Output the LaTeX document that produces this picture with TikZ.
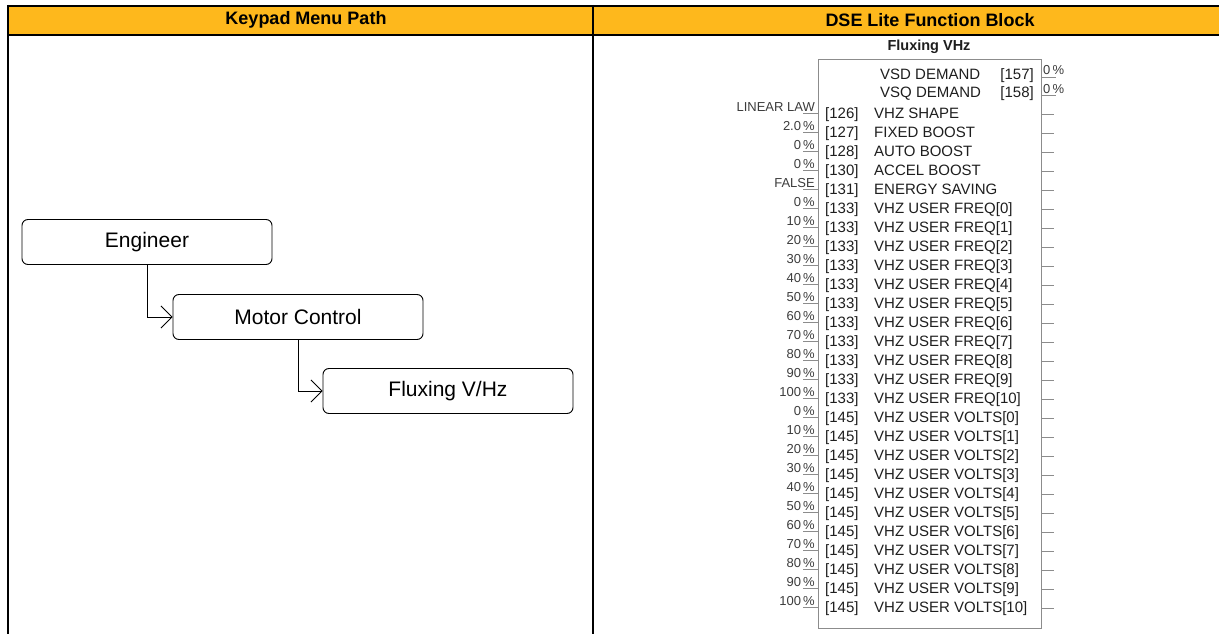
\documentclass[tikz,border=0pt]{standalone}
\usepackage{fontspec}
\setmainfont{Liberation Sans}
\usetikzlibrary{arrows.meta}
\definecolor{hdr}{RGB}{254,184,28}
\definecolor{blk}{RGB}{140,140,140}
\definecolor{txt}{RGB}{30,30,30}
\definecolor{val}{RGB}{60,60,60}
\tikzset{
  hdrtext/.style={font=\fontsize{18}{21}\selectfont\bfseries, inner sep=0pt},
  menubox/.style={draw, rounded corners=6pt, line width=0.9pt, minimum width=250pt, minimum height=45pt, inner sep=0pt, font=\fontsize{21}{25}\selectfont},
  menuarrow/.style={line width=0.8pt, -{Straight Barb[length=11pt,width=22pt,line width=0.8pt]}},
  rowtext/.style={font=\fontsize{15}{18}\selectfont, text=txt, inner sep=0pt},
  valtext/.style={font=\fontsize{13}{15}\selectfont, text=val, inner sep=0pt},
  pinline/.style={draw=blk, line width=0.8pt},
  blocktitle/.style={font=\fontsize{14.5}{17}\selectfont\bfseries, text=txt, inner sep=0pt},
}
\begin{document}
\begin{tikzpicture}[x=1pt,y=-1pt]
\useasboundingbox (0,0) rectangle (1219,634);
% table header
\fill[hdr] (8,6) rectangle (1219,35);
\draw[line width=2pt] (7,6) -- (1219,6);
\draw[line width=2pt] (7,35) -- (1219,35);
\draw[line width=2pt] (8,5) -- (8,634);
\draw[line width=2pt] (593,5) -- (593,634);
\node[hdrtext] (h1) at (306,20) {Keypad Menu Path};
\node[hdrtext] (h2) at (930,20) {DSE Lite Function Block};
% menu path
\node[menubox] (eng) at (147,242) {Engineer};
\node[menubox] (mc) at (298,317) {Motor Control};
\node[menubox] (fx) at (448,391) {Fluxing V/Hz};
\draw[menuarrow] (eng.south) |- (mc.west);
\draw[menuarrow] (mc.south) |- (fx.west);
% function block
\node[blocktitle] (title) at (929,47) {Fluxing VHz};
\node[draw=blk, line width=1pt, minimum width=223pt, minimum height=569pt, inner sep=0pt, anchor=north west] (blkbox) at (818,59) {};
% outputs
\node[rowtext, anchor=base west] (o1n) at (880,80) {VSD DEMAND};
\node[rowtext, anchor=base east] (o1p) at (1034,80) {[157]};
\node[rowtext, anchor=base west] (o2n) at (880,98) {VSQ DEMAND};
\node[rowtext, anchor=base east] (o2p) at (1034,98) {[158]};
\coordinate (o1a) at (1041,77); \coordinate (o1b) at (1056,77);
\coordinate (o2a) at (1041,95); \coordinate (o2b) at (1056,95);
\draw[pinline] (o1a) -- (o1b);
\draw[pinline] (o2a) -- (o2b);
\node[valtext, anchor=base west] (o1v) at (1043,75) {0\,\%};
\node[valtext, anchor=base west] (o2v) at (1043,93) {0\,\%};
% inputs
\foreach \i/\num/\name/\v in {
  0/126/VHZ SHAPE/LINEAR LAW,
  1/127/FIXED BOOST/2.0\,\%,
  2/128/AUTO BOOST/0\,\%,
  3/130/ACCEL BOOST/0\,\%,
  4/131/ENERGY SAVING/FALSE,
  5/133/VHZ USER FREQ[0]/0\,\%,
  6/133/VHZ USER FREQ[1]/10\,\%,
  7/133/VHZ USER FREQ[2]/20\,\%,
  8/133/VHZ USER FREQ[3]/30\,\%,
  9/133/VHZ USER FREQ[4]/40\,\%,
  10/133/VHZ USER FREQ[5]/50\,\%,
  11/133/VHZ USER FREQ[6]/60\,\%,
  12/133/VHZ USER FREQ[7]/70\,\%,
  13/133/VHZ USER FREQ[8]/80\,\%,
  14/133/VHZ USER FREQ[9]/90\,\%,
  15/133/VHZ USER FREQ[10]/100\,\%,
  16/145/VHZ USER VOLTS[0]/0\,\%,
  17/145/VHZ USER VOLTS[1]/10\,\%,
  18/145/VHZ USER VOLTS[2]/20\,\%,
  19/145/VHZ USER VOLTS[3]/30\,\%,
  20/145/VHZ USER VOLTS[4]/40\,\%,
  21/145/VHZ USER VOLTS[5]/50\,\%,
  22/145/VHZ USER VOLTS[6]/60\,\%,
  23/145/VHZ USER VOLTS[7]/70\,\%,
  24/145/VHZ USER VOLTS[8]/80\,\%,
  25/145/VHZ USER VOLTS[9]/90\,\%,
  26/145/VHZ USER VOLTS[10]/100\,\%}{
  \pgfmathsetmacro{\y}{113+19*\i}
  \node[rowtext, anchor=base west] (p\i) at (825,\y+5) {[\num]};
  \node[rowtext, anchor=base west] (n\i) at (874,\y+5) {\name};
  \node[valtext, anchor=base east] (v\i) at (815,\y-2) {\v};
  \coordinate (la\i) at (803,\y); \coordinate (lb\i) at (818,\y);
  \coordinate (ra\i) at (1041,\y+1); \coordinate (rb\i) at (1054,\y+1);
  \draw[pinline] (la\i) -- (lb\i);
  \draw[pinline] (ra\i) -- (rb\i);
}
\end{tikzpicture}
\end{document}
